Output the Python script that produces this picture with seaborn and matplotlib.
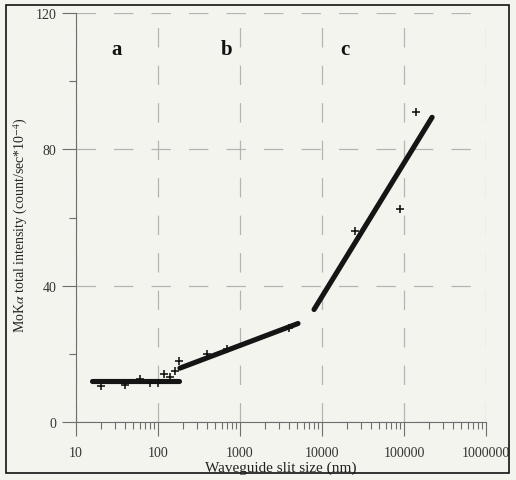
import matplotlib
matplotlib.use('Agg')
import matplotlib.pyplot as plt
import seaborn as sns
import numpy as np
from matplotlib.patches import Rectangle
from matplotlib.ticker import FixedLocator, LogLocator, NullFormatter, FuncFormatter

# measured points (slit size in nm, intensity)
slit_nm = [20, 40, 60, 80, 100, 120, 140, 160, 180, 400, 700, 4000, 25000, 90000, 140000]
intensity = [10.5, 11.0, 12.5, 11.5, 11.5, 14.0, 13.3, 15.0, 18.0, 20.0, 21.3, 27.5, 56.0, 62.5, 91.0]

# fitted segments for regions a, b, c
fit_a_x = [15.5, 180]
fit_a_y = [12.0, 12.0]
fit_b_x = [185, 5100]
fit_b_y = [15.8, 28.9]
fit_c_x = [8000, 220000]
fit_c_y = [33.0, 89.4]

region_labels = ["a", "b", "c"]
region_x = [31.6, 676, 19000]
region_y = 109.4

x_ticks = [10, 100, 1000, 10000, 100000, 1000000]
y_ticks = [0, 40, 80, 120]

bg = "#f4f4ef"
grey = "#6e6e6e"

sns.set_theme(style="ticks")
plt.rcParams['font.family'] = ['Liberation Serif', 'DejaVu Serif']
plt.rcParams['mathtext.fontset'] = 'stix'

fig = plt.figure(figsize=(5.16, 4.81), dpi=100, facecolor=bg)
ax = fig.add_axes([76 / 516, 58 / 481, 410 / 516, 409 / 481])
ax.set_facecolor(bg)

# fit lines
for fx, fy in [(fit_a_x, fit_a_y), (fit_b_x, fit_b_y), (fit_c_x, fit_c_y)]:
    sns.lineplot(x=fx, y=fy, ax=ax, color="#151515", linewidth=3.7,
                 estimator=None, sort=False, solid_capstyle="round", zorder=3)

# data points
sns.scatterplot(x=slit_nm, y=intensity, ax=ax, marker="+", s=30,
                linewidth=1.15, color="#111111", zorder=4)

ax.set_xscale("log")
ax.set_xlim(10, 1000000)
ax.set_ylim(0, 120)

ax.xaxis.set_major_locator(FixedLocator(x_ticks))
ax.xaxis.set_major_formatter(FuncFormatter(lambda v, p: "%d" % round(v)))
ax.xaxis.set_minor_locator(LogLocator(base=10, subs=np.arange(2, 10)))
ax.xaxis.set_minor_formatter(NullFormatter())
ax.yaxis.set_major_locator(FixedLocator(y_ticks))
ax.yaxis.set_minor_locator(FixedLocator([20, 60, 100]))

ax.grid(True, which="major", color="#b4b4b0", linewidth=0.9,
        linestyle=(0, (15.5, 14.5)))
ax.set_axisbelow(True)

for side in ["top", "right"]:
    ax.spines[side].set_visible(False)
for side in ["left", "bottom"]:
    ax.spines[side].set_color(grey)
    ax.spines[side].set_linewidth(0.8)

ax.tick_params(which="major", length=10, width=0.8, color=grey,
               labelsize=10, labelcolor="#333333", pad=4)
ax.tick_params(axis="x", which="major", pad=7.5)
ax.tick_params(which="minor", length=5, width=0.8, color=grey)

for lab, lx in zip(region_labels, region_x):
    ax.text(lx, region_y, lab, fontsize=15, fontweight="bold",
            ha="center", va="center", color="#111111")

ax.set_xlabel("Waveguide slit size (nm)", fontsize=11, color="#222222", labelpad=1)
ax.set_ylabel(r"MoK$\alpha$ total intensity (count/sec*10$^{-4}$)",
              fontsize=10, color="#222222", labelpad=4, y=0.484)

# frame round the whole figure
fig.patches.append(Rectangle((6 / 516, 7 / 481), 503 / 516, 468 / 481,
                             transform=fig.transFigure, fill=False,
                             edgecolor="#111111", linewidth=1.2))

fig.savefig("out.png", dpi=100, facecolor=bg)
